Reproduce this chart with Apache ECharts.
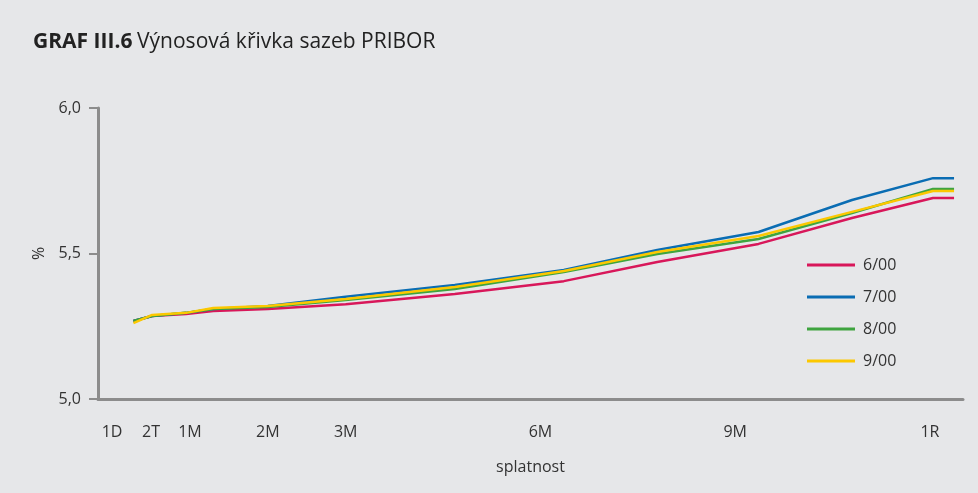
<!DOCTYPE html>
<html lang="cs">
<head>
    <meta charset="UTF-8">
    <title>Výnosová křivka sazeb PRIBOR</title>
    <script src="https://cdn.jsdelivr.net/npm/echarts@6.0.0/dist/echarts.min.js"></script>
    <style>
        html, body { margin: 0; padding: 0; background: #e6e7e9; }
        #chart { width: 978px; height: 493px; }
    </style>
</head>
<body>
<div id="chart"></div>
<script>
    // poloha na ose x (1D = 0, 2T = 1, 1M = 2, 2M = 4, 3M = 6, 6M = 11, 9M = 16, 1R = 21)
    var tickPos = [0, 1, 2, 4, 6, 11, 16, 21];
    var tickLabels = ["1D", "2T", "1M", "2M", "3M", "6M", "9M", "1R"];

    var xPos = [0.55, 1.03, 1.9, 2.6, 4.0, 6.0, 8.8, 11.6, 14.0, 16.6, 19.0, 21.08, 21.62];
    var s600 = [5.268, 5.285, 5.292, 5.302, 5.309, 5.326, 5.361, 5.405, 5.471, 5.533, 5.622, 5.691, 5.691];
    var s700 = [5.268, 5.285, 5.296, 5.309, 5.320, 5.351, 5.392, 5.443, 5.512, 5.574, 5.684, 5.759, 5.759];
    var s800 = [5.268, 5.285, 5.296, 5.309, 5.316, 5.340, 5.378, 5.436, 5.498, 5.550, 5.639, 5.722, 5.722];
    var s900 = [5.261, 5.289, 5.296, 5.313, 5.320, 5.344, 5.385, 5.440, 5.505, 5.560, 5.643, 5.715, 5.715];

    var names = ["6/00", "7/00", "8/00", "9/00"];
    var colors = ["#d8175a", "#0a6db3", "#3ea43f", "#fcc800"];
    var seriesData = [s600, s700, s800, s900];

    function pairs(ys) {
        return ys.map(function (y, i) { return [xPos[i], y]; });
    }

    var font = "'Open Sans', 'Noto Sans', sans-serif";
    var axisGrey = "#8c8c8c";

    var option = {
        backgroundColor: "#e6e7e9",
        color: colors,
        textStyle: { fontFamily: font, color: "#333" },
        title: {
            left: 28,
            top: 27,
            text: "{b|GRAF III.6} {n|Výnosová křivka sazeb PRIBOR}",
            textStyle: {
                fontWeight: "normal",
                rich: {
                    b: { fontFamily: font, fontWeight: "bold", fontSize: 21, color: "#222" },
                    n: { fontFamily: font, fontWeight: "normal", fontSize: 21, color: "#222" }
                }
            }
        },
        grid: { left: 98, top: 108, right: 15, bottom: 94 },
        legend: {
            orient: "vertical",
            left: 802,
            top: 252,
            icon: "rect",
            itemWidth: 48,
            itemHeight: 3,
            itemGap: 16,
            textStyle: { fontFamily: font, fontSize: 16, color: "#333", padding: [0, 0, 0, 3] },
            data: names
        },
        xAxis: {
            type: "value",
            min: -0.36,
            max: 21.85,
            name: "splatnost",
            nameLocation: "middle",
            nameGap: 60,
            nameTextStyle: { fontFamily: font, fontSize: 16, color: "#333" },
            axisLine: { onZero: false, lineStyle: { color: axisGrey, width: 3 } },
            axisTick: { show: false },
            splitLine: { show: false },
            axisLabel: {
                customValues: tickPos,
                margin: 25,
                fontFamily: font,
                fontSize: 16,
                color: "#333",
                formatter: function (v) {
                    var i = tickPos.indexOf(v);
                    return i >= 0 ? tickLabels[i] : "";
                }
            }
        },
        yAxis: {
            type: "value",
            min: 5,
            max: 6,
            interval: 0.5,
            name: "%",
            nameLocation: "middle",
            nameRotate: 90,
            nameGap: 50,
            nameTextStyle: { fontFamily: font, fontSize: 16, color: "#333" },
            axisLine: { show: true, onZero: false, lineStyle: { color: axisGrey, width: 3 } },
            axisTick: { show: true, length: 9, lineStyle: { color: axisGrey, width: 2 } },
            splitLine: { show: false },
            axisLabel: {
                margin: 17,
                fontFamily: font,
                fontSize: 16,
                color: "#333",
                formatter: function (v) { return v.toFixed(1).replace(".", ","); }
            }
        },
        series: seriesData.map(function (d, i) {
            return {
                name: names[i],
                type: "line",
                data: pairs(d),
                showSymbol: false,
                symbol: "none",
                lineStyle: { width: 2.5, color: colors[i] },
                itemStyle: { color: colors[i] },
                animation: false
            };
        })
    };

    var chart = echarts.init(document.getElementById("chart"));
    chart.setOption(option);
</script>
</body>
</html>
